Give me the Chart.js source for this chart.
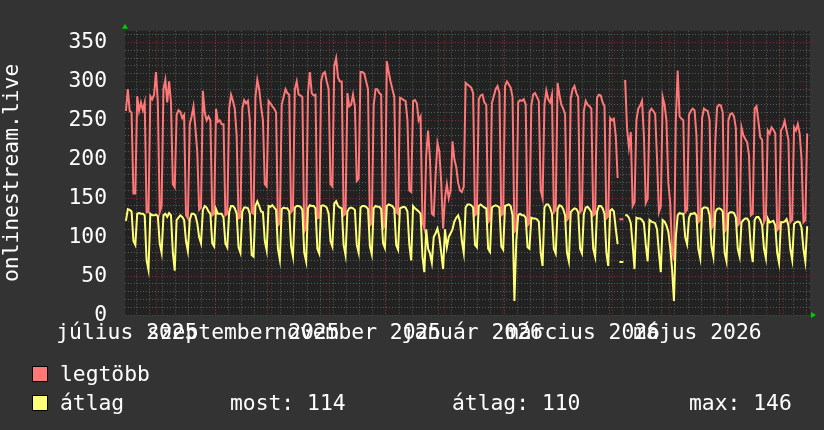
<!DOCTYPE html>
<html><head><meta charset="utf-8">
<script src="https://cdn.jsdelivr.net/npm/chart.js@4/dist/chart.umd.min.js"></script>
<style>
html,body{margin:0;padding:0;background:#333333;}
#wrap{position:relative;width:824px;height:430px;overflow:hidden;}
canvas{position:absolute;left:0;top:0;}
.lg{position:absolute;font-family:'DejaVu Sans Mono',monospace;font-size:21.33px;line-height:20px;color:#ffffff;white-space:pre;}
.sw{position:absolute;width:14px;height:14px;border:1px solid #000;}
</style></head><body>
<div id="wrap">
<canvas id="c" width="824" height="430"></canvas>
<div id="legend"></div>
</div>
<script>
// ---- data (daily values from 2025-07-15) ----
const START_DATE = '2025-07-15';
const SPAN_DAYS = 365;
const seriesNames = ['legtöbb', 'átlag'];
const maxVals = [
262,290,262,260,156,156,281,262,273,263,273,132,132,281,277,283,312,273,132,140,
290,302,273,300,273,168,164,257,263,261,253,257,128,124,245,255,268,240,210,135,
138,288,260,250,255,250,128,130,265,248,250,245,245,128,130,265,283,275,265,230,
124,125,265,276,272,275,250,132,130,280,302,290,268,250,168,165,275,272,268,265,
260,115,118,270,280,290,285,283,132,135,290,300,283,282,280,107,112,285,312,285,
282,283,124,125,300,310,312,300,290,168,165,320,330,305,300,300,128,130,285,268,
270,283,268,172,175,312,312,310,300,290,115,118,269,290,290,285,283,111,115,326,
312,300,290,280,132,130,279,278,276,275,250,160,158,275,276,272,250,255,120,111,
205,237,200,130,128,180,221,210,170,111,150,168,150,160,223,200,190,170,160,158,
165,298,296,294,292,285,128,130,277,282,283,273,270,119,122,272,281,290,294,285,
128,130,294,300,296,292,280,107,110,273,276,275,277,270,115,118,269,283,285,280,
275,160,150,270,288,277,273,283,132,135,298,283,270,265,258,122,125,278,290,294,
285,280,132,135,262,275,270,268,265,128,130,279,283,282,273,268,124,127,253,250,
252,230,176,null,123,null,302,240,215,235,140,145,250,265,269,275,230,144,150,261,
265,262,258,200,132,140,280,270,250,170,144,85,70,250,314,255,252,250,132,135,
257,262,265,263,230,119,122,253,265,263,262,250,111,115,221,267,270,269,260,107,
110,250,258,259,255,240,115,118,241,231,226,222,205,128,130,265,268,249,228,225,
119,125,237,233,241,238,233,109,112,237,241,249,237,225,119,122,241,237,245,233,
200,119,122,233
];
const avgVals = [
121,136,135,133,95,90,130,131,130,130,128,70,58,130,128,128,129,127,92,80,
128,130,126,131,128,80,57,122,125,128,126,122,95,82,122,130,130,128,118,100,
92,135,140,138,133,130,92,88,136,130,130,130,125,92,87,132,140,140,137,130,
87,80,133,138,138,137,130,77,75,140,146,140,133,132,95,83,140,139,141,138,
135,85,71,136,138,137,137,133,88,75,138,140,140,139,135,80,69,137,141,140,
140,137,85,79,140,141,140,138,130,95,88,143,146,140,138,137,90,77,133,137,
138,137,135,90,80,138,140,140,139,136,88,78,137,140,139,139,136,92,86,140,
142,141,140,136,90,84,137,138,139,138,133,90,70,140,137,135,133,130,75,55,
110,85,79,67,100,105,111,100,80,59,110,87,100,105,110,120,125,128,120,95,
80,138,142,142,141,138,90,87,140,142,140,138,137,85,81,138,140,141,140,138,
88,84,140,141,142,140,128,18,95,128,130,128,128,125,87,85,125,124,124,123,
120,80,63,138,142,142,138,130,85,79,136,141,140,136,128,80,69,132,135,137,
136,132,85,79,130,138,139,136,132,85,75,132,140,140,137,130,80,63,134,136,
133,111,91,null,68,null,128,128,125,118,90,59,125,124,124,122,118,90,69,122,
120,119,118,110,80,55,122,120,115,107,87,59,18,100,128,131,130,130,100,91,
125,130,130,131,128,85,73,136,138,138,137,128,88,75,132,136,137,136,133,80,
69,130,132,132,131,125,85,75,119,122,124,124,120,85,68,122,126,126,122,115,
85,73,124,119,120,121,115,80,67,119,119,120,123,115,85,71,117,119,120,119,
112,85,69,114
];
const xTickLabels = ['július 2025','szeptember 2025','november 2025','január 2026','március 2026','május 2026'];
const xTickDates  = ['2025-07-16','2025-09-16','2025-11-16','2026-01-16','2026-03-16','2026-05-16'];
const yTickLabels = [0,50,100,150,200,250,300,350];
const statNames  = ['most','átlag','max'];
const statValues = [114,110,146];

// ---- colours / fonts ----
const RED = '#ff7777', YEL = '#ffff77';
const BACK = '#333333', CANVAS = '#222222';
const GRID = 'rgba(110,110,110,0.75)', MGRID = 'rgba(150,45,45,0.85)';
const FONT = {family:"'DejaVu Sans Mono', monospace", size:21.33};

// ---- helpers ----
const DAY = 86400000;
const t0 = Date.parse(START_DATE + 'T00:00:00Z');
const dayOf = s => (Date.parse(s + 'T00:00:00Z') - t0) / DAY;
const monthStarts = [], mondays = [];
for (let d = 0; d <= SPAN_DAYS; d++) {
  const dt = new Date(t0 + d * DAY);
  if (dt.getUTCDate() === 1) monthStarts.push(d);
  if (dt.getUTCDay() === 1) mondays.push(d);
}
const labelPos = xTickDates.map(dayOf);
const yMinor = [];
for (let v = 0; v <= 360; v += 10) yMinor.push(v);

const pts = arr => arr.map((v, i) => ({x: i + 0.5, y: v}));
const isolated = arr => ctx => {
  const i = ctx.dataIndex;
  return (arr[i] != null && arr[i-1] == null && arr[i+1] == null) ? 2 : 0;
};

const hideH = s => { s.height = 0; };
const gridAxis = (ticksArr, color) => ({
  type:'linear', min:0, max:SPAN_DAYS, position:'bottom', display:true,
  afterBuildTicks: s => { s.ticks = ticksArr.map(v => ({value:v})); },
  afterFit: hideH,
  ticks:{display:false},
  grid:{color: color, lineWidth:1, drawTicks:false},
  border:{display:false, dash:[1,2]}
});

const bgPlugin = {
  id:'bg',
  beforeDraw(chart){
    const {ctx, chartArea:a} = chart;
    ctx.save();
    ctx.fillStyle = BACK; ctx.fillRect(0,0,chart.width,chart.height);
    ctx.fillStyle = CANVAS; ctx.fillRect(a.left, a.top, a.right-a.left, a.bottom-a.top);
    ctx.restore();
  },
  afterDraw(chart){
    const {ctx, chartArea:a} = chart;
    ctx.save();
    ctx.fillStyle = '#00cc00';
    ctx.beginPath();
    ctx.moveTo(a.left - 3, a.top - 2); ctx.lineTo(a.left + 3, a.top - 2); ctx.lineTo(a.left, a.top - 7); ctx.closePath(); ctx.fill();
    ctx.beginPath();
    ctx.moveTo(a.right + 1, a.bottom - 3); ctx.lineTo(a.right + 1, a.bottom + 3); ctx.lineTo(a.right + 6, a.bottom); ctx.closePath(); ctx.fill();
    ctx.restore();
  }
};

new Chart(document.getElementById('c'), {
  type:'line',
  data:{ datasets:[
    {label:seriesNames[1], data:pts(avgVals), borderColor:YEL, backgroundColor:YEL, borderWidth:2,
     pointRadius:isolated(avgVals), pointStyle:'line', pointBorderColor:YEL, pointBorderWidth:2, tension:0, spanGaps:false, order:0},
    {label:seriesNames[0], data:pts(maxVals), borderColor:RED, backgroundColor:RED, borderWidth:2,
     pointRadius:isolated(maxVals), pointStyle:'line', pointBorderColor:RED, pointBorderWidth:2, tension:0, spanGaps:false, order:1}
  ]},
  options:{
    responsive:false, animation:false, devicePixelRatio:1,
    layout:{padding:{left:0, right:14, top:14, bottom:0}},
    plugins:{legend:{display:false}, tooltip:{enabled:false}},
    scales:{
      xMinor: gridAxis(mondays, GRID),
      xMajor: gridAxis(monthStarts, MGRID),
      x:{ type:'linear', min:0, max:SPAN_DAYS, position:'bottom',
          afterBuildTicks: s => { s.ticks = labelPos.map(v => ({value:v})); },
          afterFit: s => { s.height = 115; },
          grid:{display:false, drawTicks:false}, border:{display:false},
          ticks:{autoSkip:false, maxRotation:0, minRotation:0, color:'#ffffff', font:FONT, padding:6,
                 callback:(v, i) => xTickLabels[i]} },
      y:{ min:0, max:365, position:'left',
          afterBuildTicks: s => { s.ticks = yMinor.map(v => ({value:v})); },
          afterFit: s => { s.width = 125; },
          ticks:{autoSkip:false, color:'#ffffff', font:FONT, padding:18,
                 callback: v => yTickLabels.includes(v) ? String(v) : ''},
          grid:{drawTicks:false, lineWidth:1, color: c => (c.tick && yTickLabels.includes(c.tick.value)) ? MGRID : GRID},
          border:{display:false, dash:[1,2]},
          title:{display:true, text:'onlinestream.live', color:'#ffffff', font:FONT, padding:{top:0, bottom:0}} }
    }
  },
  plugins:[bgPlugin]
});

// ---- legend (HTML text) ----
const lg = document.getElementById('legend');
const add = (html) => { lg.insertAdjacentHTML('beforeend', html); };
add(`<div class="sw" style="left:32px;top:366px;background:${RED}"></div>`);
add(`<div class="lg" style="left:60px;top:364px">${seriesNames[0]}</div>`);
add(`<div class="sw" style="left:32px;top:395px;background:${YEL}"></div>`);
add(`<div class="lg" style="left:60px;top:393px">${seriesNames[1]}</div>`);
const statX = [230, 452, 689];
statNames.forEach((n, k) => add(`<div class="lg" style="left:${statX[k]}px;top:393px">${n}: ${statValues[k]}</div>`));
</script>
</body></html>
